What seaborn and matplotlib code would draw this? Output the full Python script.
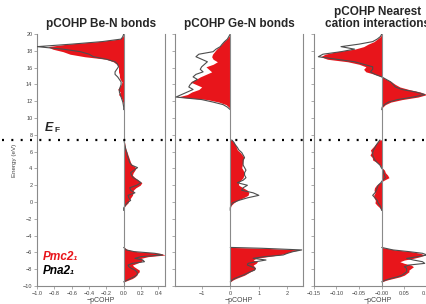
import matplotlib
matplotlib.use("Agg")
import numpy as np
import matplotlib.pyplot as plt
import seaborn as sns
from matplotlib.lines import Line2D
from matplotlib.ticker import FixedLocator, FixedFormatter

# energy grids (eV) for the three bands
energy_lo = [-9.5, -9.3, -9.1, -8.9, -8.7, -8.5, -8.3, -8.1, -7.9, -7.7, -7.5,
             -7.3, -7.1, -6.9, -6.7, -6.5, -6.3, -6.1, -5.9, -5.7, -5.5, -5.4]
energy_mid = [-1.0, -0.7, -0.4, -0.1, 0.2, 0.5, 0.8, 1.1, 1.4, 1.7, 2.0, 2.3,
              2.6, 2.9, 3.2, 3.5, 3.8, 4.1, 4.4, 4.7, 5.0, 5.3, 5.6, 5.9, 6.2,
              6.5, 6.8, 7.1, 7.4]
energy_hi = [11.0, 11.3, 11.6, 11.9, 12.2, 12.5, 12.8, 13.1, 13.4, 13.7, 14.0,
             14.3, 14.6, 14.9, 15.2, 15.5, 15.8, 16.1, 16.4, 16.7, 17.0, 17.3,
             17.6, 17.9, 18.2, 18.5, 18.8, 19.1, 19.4, 19.7, 20.0]
fermi = 7.4

# Be-N bonds
ben_pmc_lo = [0, 0.05, 0.1, 0.13, 0.15, 0.16, 0.18, 0.18, 0.15, 0.12, 0.1,
              0.15, 0.2, 0.22, 0.2, 0.28, 0.48, 0.42, 0.15, 0.05, 0.02, 0]
ben_pna_lo = [0, 0.04, 0.08, 0.12, 0.15, 0.16, 0.15, 0.13, 0.09, 0.06, 0.05,
              0.1, 0.24, 0.22, 0.13, 0.2, 0.45, 0.36, 0.12, 0.03, 0.01, 0]
ben_pmc_mid = [0, 0, 0.02, 0.05, 0.06, 0.08, 0.1, 0.11, 0.11, 0.14, 0.19, 0.21,
               0.17, 0.13, 0.1, 0.11, 0.13, 0.14, 0.1, 0.08, 0.07, 0.06, 0.05,
               0.04, 0.03, 0.02, 0.015, 0.01, 0.005]
ben_pna_mid = [0, 0, 0.02, 0.04, 0.08, 0.06, 0.05, 0.13, 0.08, 0.07, 0.15, 0.2,
               0.16, 0.11, 0.09, 0.08, 0.12, 0.16, 0.09, 0.07, 0.06, 0.05, 0.04,
               0.035, 0.025, 0.02, 0.012, 0.008, 0.005]
ben_pmc_hi = [0, 0, -0.005, -0.01, -0.02, -0.03, -0.06, -0.04, -0.07, -0.05,
              -0.03, -0.02, -0.04, -0.05, -0.05, -0.06, -0.06, -0.06, -0.08,
              -0.12, -0.2, -0.45, -0.62, -0.7, -0.82, -0.88, -0.65, -0.3,
              -0.05, -0.01, 0]
ben_pna_hi = [0, 0, -0.005, -0.01, -0.02, -0.03, -0.04, -0.05, -0.05, -0.04,
              -0.03, -0.03, -0.05, -0.07, -0.1, -0.1, -0.08, -0.06, -0.07,
              -0.1, -0.2, -0.35, -0.4, -0.5, -0.7, -1.0, -0.6, -0.25, -0.03,
              -0.01, 0]

# Ge-N bonds
gen_pmc_lo = [0, 0.08, 0.2, 0.35, 0.5, 0.6, 0.7, 0.82, 0.88, 0.85, 0.8, 0.9,
              0.95, 0.8, 0.9, 1.3, 1.7, 1.95, 2.1, 2.45, 1.2, 0]
gen_pna_lo = [0, 0.06, 0.15, 0.3, 0.45, 0.58, 0.7, 0.85, 0.88, 0.75, 0.6, 0.62,
              0.9, 1.25, 0.8, 1.2, 1.85, 2.0, 2.2, 2.5, 1.1, 0]
gen_pmc_mid = [0, 0, 0.03, 0.12, 0.25, 0.45, 0.62, 0.65, 0.6, 0.45, 0.3, 0.28,
               0.37, 0.45, 0.47, 0.48, 0.45, 0.4, 0.42, 0.43, 0.45, 0.48, 0.42,
               0.35, 0.25, 0.22, 0.18, 0.12, 0.05]
gen_pna_mid = [0, 0, 0.02, 0.08, 0.3, 0.6, 1.0, 0.8, 0.4, 0.45, 0.6, 0.25,
               0.45, 0.55, 0.5, 0.5, 0.55, 0.5, 0.45, 0.45, 0.45, 0.5, 0.45,
               0.4, 0.3, 0.25, 0.18, 0.13, 0.05]
gen_pmc_hi = [0, -0.05, -0.15, -0.4, -0.8, -1.85, -1.5, -1.35, -1.1, -1.0,
              -1.2, -1.4, -1.2, -1.05, -0.85, -0.65, -0.75, -0.85, -0.6, -0.45,
              -0.6, -0.65, -0.62, -0.55, -0.48, -0.38, -0.3, -0.22, -0.12,
              -0.05, 0]
gen_pna_hi = [0, -0.1, -0.25, -0.6, -1.0, -1.9, -1.7, -1.5, -1.3, -1.45, -1.4,
              -1.3, -1.15, -1.3, -1.2, -0.95, -1.05, -1.0, -0.9, -0.8, -1.0,
              -1.2, -1.1, -0.6, -0.5, -0.35, -0.28, -0.2, -0.1, -0.05, 0]

# nearest cation interactions
cat_pmc_lo = [0, 0.01, 0.025, 0.04, 0.05, 0.055, 0.06, 0.06, 0.065, 0.07,
              0.065, 0.05, 0.04, 0.05, 0.07, 0.085, 0.095, 0.085, 0.065, 0.03,
              0.01, 0]
cat_pna_lo = [0, 0.008, 0.02, 0.035, 0.045, 0.05, 0.055, 0.055, 0.055, 0.05,
              0.06, 0.095, 0.09, 0.07, 0.055, 0.08, 0.1, 0.09, 0.06, 0.025,
              0.008, 0]
cat_pmc_mid = [0, -0.004, -0.01, -0.015, -0.014, -0.017, -0.018, -0.015,
               -0.017, -0.016, -0.012, -0.004, 0.005, 0.016, 0.013, 0.008,
               0.006, 0.0, -0.004, -0.01, -0.02, -0.021, -0.026, -0.023,
               -0.025, -0.02, -0.015, -0.01, -0.005]
cat_pna_mid = [0, -0.002, -0.004, -0.008, -0.01, -0.015, -0.02, -0.015, -0.012,
               -0.01, -0.008, -0.002, 0.002, 0.008, 0.006, 0.004, 0.003,
               -0.001, -0.004, -0.01, -0.015, -0.018, -0.02, -0.02, -0.018,
               -0.015, -0.012, -0.008, -0.004]
cat_pmc_hi = [0, 0.002, 0.008, 0.02, 0.045, 0.08, 0.1, 0.085, 0.06, 0.04, 0.03,
              0.022, 0.01, 0.0, -0.015, -0.035, -0.04, -0.035, -0.05, -0.075,
              -0.12, -0.135, -0.125, -0.1, -0.06, -0.04, -0.03, -0.017, -0.01,
              -0.003, 0]
cat_pna_hi = [0, 0.001, 0.006, 0.015, 0.035, 0.07, 0.095, 0.075, 0.045, 0.03,
              0.025, 0.02, 0.01, 0.0, -0.015, -0.025, -0.02, -0.02, -0.04,
              -0.06, -0.1, -0.14, -0.13, -0.09, -0.06, -0.09, -0.05, -0.02,
              -0.01, -0.003, 0]

titles = ["pCOHP Be-N bonds", "pCOHP Ge-N bonds",
          "pCOHP Nearest\ncation interactions"]
xlims = [(-1.0, 0.48), (-1.93, 2.55), (-0.15, 0.133)]
xticks = [[-1.0, -0.8, -0.6, -0.4, -0.2, 0.0, 0.2, 0.4],
          [-1, 0, 1, 2],
          [-0.15, -0.10, -0.05, 0.0, 0.05, 0.10]]
xticklabels = [["\u22121.0", "\u22120.8", "\u22120.6", "\u22120.4", "\u22120.2",
                "0.0", "0.2", "0.4"],
               ["\u22121", "0", "1", "2"],
               ["\u22120.15", "\u22120.10", "\u22120.05", "\u22120.00", "0.05",
                "0.10"]]
yticks = [-10, -8, -6, -4, -2, 0, 2, 4, 6, 8, 10, 12, 14, 16, 18, 20]

pmc_sets = [(ben_pmc_lo, ben_pmc_mid, ben_pmc_hi),
            (gen_pmc_lo, gen_pmc_mid, gen_pmc_hi),
            (cat_pmc_lo, cat_pmc_mid, cat_pmc_hi)]
pna_sets = [(ben_pna_lo, ben_pna_mid, ben_pna_hi),
            (gen_pna_lo, gen_pna_mid, gen_pna_hi),
            (cat_pna_lo, cat_pna_mid, cat_pna_hi)]
grids = (energy_lo, energy_mid, energy_hi)

sns.set_style("white")
plt.rcParams['font.family'] = ['Liberation Sans', 'DejaVu Sans']

red = "#e8151b"
gray = "#8a8a8a"

fig = plt.figure(figsize=(4.27, 3.04), dpi=100)
lefts = [0.087, 0.41, 0.735]
axes = [fig.add_axes([l, 0.059, 0.3, 0.829]) for l in lefts]

for i, ax in enumerate(axes):
    for grid, pmc, pna in zip(grids, pmc_sets[i], pna_sets[i]):
        ax.fill_betweenx(grid, 0, pmc, color=red, lw=0, zorder=2)
        sns.lineplot(x=pna, y=grid, orient="y", sort=False, ax=ax,
                     color="#4d4d4d", lw=0.8, zorder=3)
    ax.axvline(0, color=gray, lw=0.8, zorder=4)
    ax.set_xlim(*xlims[i])
    ax.set_ylim(-10, 20)
    ax.spines["top"].set_visible(False)
    for s in ["left", "right", "bottom"]:
        ax.spines[s].set_color(gray)
        ax.spines[s].set_linewidth(0.8)
    ax.xaxis.set_major_locator(FixedLocator(xticks[i]))
    ax.xaxis.set_major_formatter(FixedFormatter(xticklabels[i]))
    ax.set_yticks(yticks)
    ax.tick_params(axis="both", which="both", direction="out", length=2.2,
                   width=0.5, color=gray, labelsize=4, pad=1.2,
                   bottom=True, left=True, labelcolor="#444444")
    if i > 0:
        ax.set_yticklabels([])
    ax.set_xlabel("\u2212pCOHP", fontsize=5, labelpad=1.2, color="#444444")
    ax.set_ylabel("")
    ax.set_title(titles[i], fontsize=8.5, fontweight="bold", pad=5,
                 linespacing=1.0)

axes[0].set_ylabel("Energy (eV)", fontsize=4.5, labelpad=4, color="#444444")

# Fermi level across the whole figure
y_f = axes[0].transData.transform((0, fermi))[1] / fig.bbox.height
fig.add_artist(Line2D([0.005, 1.0], [y_f, y_f], transform=fig.transFigure,
                      color="black", lw=1.6, linestyle=(0, (0.9, 3.3)),
                      zorder=10))

# E_F label
ax0 = axes[0]
ax0.text(-0.91, 8.1, "E", fontsize=9, fontweight="bold", style="italic",
         ha="left", va="bottom")
ax0.text(-0.80, 8.05, "F", fontsize=6, fontweight="bold", ha="left",
         va="bottom")

# legend texts
ax0.text(-0.93, -6.5, "Pmc2\u2081", fontsize=8.5, fontweight="bold",
         style="italic", color=red, ha="left", va="center")
ax0.text(-0.93, -8.2, "Pna2\u2081", fontsize=8.5, fontweight="bold",
         style="italic", color="black", ha="left", va="center")

fig.savefig("out.png", dpi=100)
